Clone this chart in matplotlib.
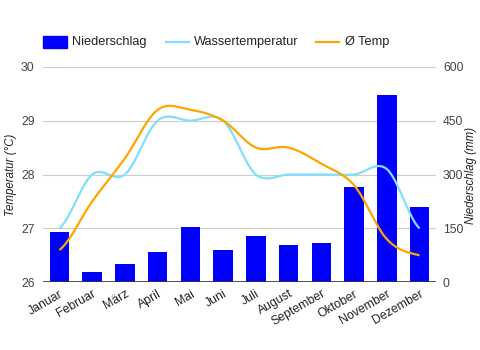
import numpy as np
import matplotlib
matplotlib.use("Agg")
import matplotlib.pyplot as plt
from matplotlib.lines import Line2D
from matplotlib.patches import Rectangle

plt.rcParams['font.family'] = ['Liberation Sans', 'DejaVu Sans']

# Daten
monate = ['Januar', 'Februar', 'März', 'April', 'Mai', 'Juni', 'Juli',
          'August', 'September', 'Oktober', 'November', 'Dezember']
niederschlag = [140, 30, 50, 85, 155, 90, 130, 105, 110, 265, 520, 210]
wassertemp = [27.0, 28.0, 28.0, 29.0, 29.0, 29.0, 28.0, 28.0, 28.0, 28.0, 28.1, 27.0]
temp_mittel = [26.6, 27.5, 28.3, 29.2, 29.2, 29.0, 28.5, 28.5, 28.2, 27.8, 26.8, 26.5]

BLAU = '#0000ff'
HELLBLAU = '#80deff'
ORANGE = '#ffa500'
TEXT = '#444444'


def glatt(y, n=30):
    """Catmull-Rom Kurve durch die Punkte (fuer curveType 'function')."""
    y = np.asarray(y, dtype=float)
    p = np.concatenate([[y[0]], y, [y[-1]]])
    xs, ys = [], []
    t = np.linspace(0, 1, n, endpoint=False)
    for i in range(len(y) - 1):
        p0, p1, p2, p3 = p[i], p[i + 1], p[i + 2], p[i + 3]
        m1 = (p2 - p0) / 2
        m2 = (p3 - p1) / 2
        h00 = 2 * t**3 - 3 * t**2 + 1
        h10 = t**3 - 2 * t**2 + t
        h01 = -2 * t**3 + 3 * t**2
        h11 = t**3 - t**2
        xs.append(i + t)
        ys.append(h00 * p1 + h10 * m1 + h01 * p2 + h11 * m2)
    xs.append([len(y) - 1])
    ys.append([y[-1]])
    return np.concatenate(xs), np.concatenate(ys)


fig = plt.figure(figsize=(4.81, 3.5), dpi=100)
ax = fig.add_axes([0.0894, 0.1934, 0.8170, 0.6160])
ax2 = ax.twinx()
ax.set_zorder(2)
ax2.set_zorder(1)
ax.patch.set_visible(False)

x = np.arange(len(monate))

# Balken (rechte Achse)
ax2.bar(x, niederschlag, width=0.6, color=BLAU, zorder=2)
ax2.set_ylim(0, 600)
ax2.set_yticks([0, 150, 300, 450, 600])
ax2.grid(axis='y', color='#cccccc', linewidth=0.8, zorder=0)
ax2.set_axisbelow(True)
ax2.axhline(0, color='#333333', linewidth=1.2, zorder=3)

# Linien (linke Achse)
xw, yw = glatt(wassertemp)
ax.plot(xw, yw, color=HELLBLAU, linewidth=1.6, solid_capstyle='butt')
xt, yt = glatt(temp_mittel)
ax.plot(xt, yt, color=ORANGE, linewidth=1.6, solid_capstyle='butt')
ax.set_ylim(26, 30)
ax.set_yticks([26, 27, 28, 29, 30])
ax.set_xlim(-0.5, len(monate) - 0.5)

ax.set_xticks(x)
ax.set_xticklabels(monate, rotation=30, ha='right', rotation_mode='anchor')

for a in (ax, ax2):
    for s in a.spines.values():
        s.set_visible(False)
    a.tick_params(length=0, labelsize=8.8, colors=TEXT)
ax.tick_params(axis='y', pad=6)
ax2.tick_params(axis='y', pad=5)
ax.tick_params(axis='x', pad=4, labelcolor='#222222')

# Achsentitel
fig.text(11.5 / 481, 1 - 175 / 350, 'Temperatur (°C)', fontsize=8.3, style='italic',
         color='#222222', rotation=90, ha='center', va='center')
fig.text(471.5 / 481, 1 - 175 / 350, 'Niederschlag (mm)', fontsize=8.3, style='italic',
         color='#222222', rotation=90, ha='center', va='center')

# Legende oben
def px(xp, yp):
    return xp / 481, 1 - yp / 350

fig.patches.append(Rectangle(px(43, 47.5), 23.5 / 481, 11.5 / 350,
                             transform=fig.transFigure, color=BLAU))
fig.text(*px(72, 42), 'Niederschlag', fontsize=9.2, color='#222222', va='center')
fig.lines.append(Line2D([166 / 481, 189 / 481], [1 - 42 / 350] * 2,
                        transform=fig.transFigure, color=HELLBLAU, linewidth=1.6))
fig.text(*px(194, 42), 'Wassertemperatur', fontsize=9.2, color='#222222', va='center')
fig.lines.append(Line2D([316 / 481, 339.5 / 481], [1 - 42 / 350] * 2,
                        transform=fig.transFigure, color=ORANGE, linewidth=1.6))
fig.text(*px(345, 42), 'Ø Temp', fontsize=9.2, color='#222222', va='center')

fig.savefig('out.png', dpi=100)
